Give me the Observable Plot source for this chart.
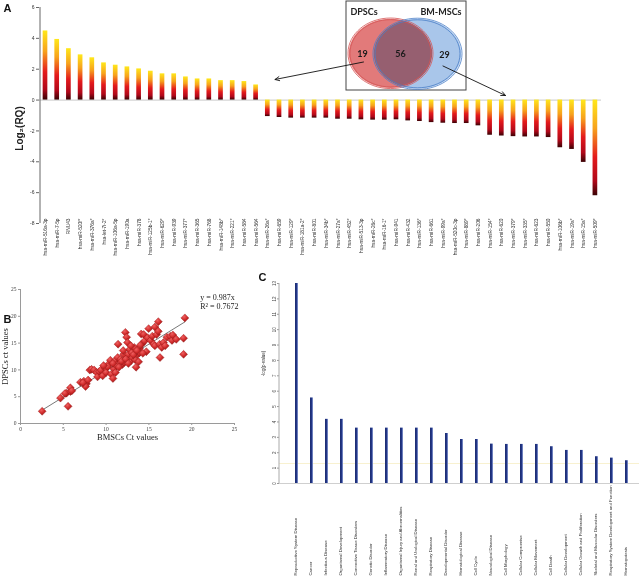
<!DOCTYPE html>
<html><head><meta charset="utf-8">
<script src="https://cdn.jsdelivr.net/npm/d3@7"></script>
<script src="https://cdn.jsdelivr.net/npm/@observablehq/plot@0.6"></script>
<style>
html,body{margin:0;padding:0;background:#fff;}
#root{position:relative;width:639px;height:577px;overflow:hidden;background:#fff;}
#root > svg{position:absolute;}
</style></head><body><div id="root"></div>
<script>
// ---------- Panel A data ----------
const mirnaLabels = [
  "hsa-miR-516a-3p","hsa-miR-7-5p","RNU43","hsa-miR-520f*","hsa-miR-376a*","hsa-let-7i-2*",
  "hsa-miR-106a-5p","hsa-miR-190a","hsa-miR-378","hsa-miR-125b-1*","hsa-miR-629*","hsa-miR-939",
  "hsa-miR-377*","hsa-miR-365","hsa-miR-768","hsa-miR-148b*","hsa-miR-221*","hsa-miR-584","hsa-miR-564",
  "hsa-miR-26a*","hsa-miR-659","hsa-miR-129*","hsa-miR-181a-2*","hsa-miR-801","hsa-miR-34b*",
  "hsa-miR-27a*","hsa-miR-452*","hsa-miR-513-3p","hsa-miR-26c*","hsa-miR-16-1*","hsa-miR-941",
  "hsa-miR-432","hsa-miR-136*","hsa-miR-661","hsa-miR-99a*","hsa-miR-520c-3p","hsa-miR-889*",
  "hsa-miR-206","hsa-miR-154*","hsa-miR-620","hsa-miR-379*","hsa-miR-335*","hsa-miR-623",
  "hsa-miR-550","hsa-miR-106b*","hsa-miR-19a*","hsa-miR-15a*","hsa-miR-509*"
];
const log2RQ = [
  4.48,3.93,3.33,2.93,2.74,2.41,2.26,2.15,2.02,1.87,1.7,1.7,1.5,1.37,1.37,1.26,1.26,1.2,0.98,
  -1.07,-1.13,-1.17,-1.17,-1.17,-1.17,-1.24,-1.24,-1.28,-1.3,-1.3,-1.28,-1.35,-1.39,-1.46,-1.5,
  -1.52,-1.52,-1.67,-2.28,-2.33,-2.37,-2.39,-2.39,-2.43,-3.09,-3.2,-4.04,-6.2
];
const aTicks = [6,4,2,0,-2,-4,-6,-8];

// ---------- Venn data ----------
const vennSetNames = ["DPSCs","BM-MSCs"];
const vennCounts = [19,56,29];

// ---------- Panel B data ----------
const bmscCt = [2.53,4.67,5.56,5.37,5.83,5.83,5.2,6.0,7.0,7.4,7.7,7.6,7.9,7.3,8.1,8.3,8.6,8.9,9.0,9.2,9.4,9.6,9.9,10.0,10.3,10.6,10.8,10.9,11.1,10.5,11.1,11.4,11.35,11.6,11.7,11.9,12.05,12.25,12.4,12.5,12.1,12.6,12.75,12.9,13.0,13.1,13.3,13.4,13.5,13.7,13.9,13.9,14.1,14.2,14.4,14.5,14.7,14.85,14.97,15.2,15.4,15.55,15.7,15.7,15.9,16.1,16.1,16.25,16.3,16.5,16.7,16.9,17.1,17.5,17.7,17.8,18.2,19.05,19.05,19.2,11.2,11.8,12.3,12.6,13.2,11.5,10.8,12.9,13.6,14.3,12.0,13.8,10.2,9.7,14.0];
const dpscCt = [2.28,4.74,3.2,5.66,5.97,6.65,5.6,6.1,7.7,7.9,7.4,6.9,8.1,7.6,9.97,10.1,9.97,9.5,8.7,9.7,9.97,8.9,10.3,9.5,11.1,9.2,8.4,10.2,9.5,11.8,11.8,14.8,12.3,11.1,12.0,11.0,12.9,17.0,16.1,15.1,11.4,12.9,13.8,11.7,13.2,12.3,14.2,11.9,10.5,12.9,14.0,13.2,16.7,14.9,16.6,15.4,13.4,16.0,17.7,15.5,16.3,14.8,18.0,14.5,16.6,19.0,17.2,14.8,12.3,14.2,15.1,14.5,16.1,16.3,15.5,16.5,15.7,15.9,12.9,19.7,10.8,11.6,12.0,11.2,12.8,10.5,11.2,14.5,13.6,13.1,13.6,11.5,10.6,10.8,14.6];
const bTicks = [0,5,10,15,20,25];
const trendSlope = 0.987;
const trendR2 = "0.7672";
const trendXRange = [2.5, 19.2];

// ---------- Panel C data ----------
const diseaseCategories = [
  "Reproductive System Disease","Cancer","Infectious Disease","Organismal Development",
  "Connective Tissue Disorders","Genetic Disorder","Inflammatory Disease",
  "Organismal Injury and Abnormalities","Renal and Urological Disease","Respiratory Disease",
  "Developmental Disorder","Hematological Disease","Cell Cycle","Neurological Disease",
  "Cell Morphology","Cellular Compromise","Cellular Movement","Cell Death","Cellular Development",
  "Cellular Growth and Proliferation","Skeletal and Muscular Disorders",
  "Respiratory System Development and Function","Hematopoiesis"
];
const negLogP = [13,5.56,4.17,4.17,3.6,3.6,3.6,3.6,3.6,3.6,3.25,2.86,2.86,2.56,2.54,2.54,2.54,2.39,2.15,2.15,1.74,1.65,1.48];
const cTicks = [0,1,2,3,4,5,6,7,8,9,10,11,12,13];
const pThreshold = 1.3;

// ---------- helpers ----------
const root = document.getElementById("root");
function place(el, left, top){ el.style.left = left+"px"; el.style.top = top+"px"; root.appendChild(el); }
function defsMark(build){ return () => { const d = d3.create("svg:defs"); build(d); return d.node(); }; }
function ellipseSymbol(aspect){
  return { draw(ctx, size){
    const rx = Math.sqrt(size/Math.PI), ry = rx*aspect, k = 0.5523;
    ctx.moveTo(rx,0);
    ctx.bezierCurveTo(rx,k*ry,k*rx,ry,0,ry);
    ctx.bezierCurveTo(-k*rx,ry,-rx,k*ry,-rx,0);
    ctx.bezierCurveTo(-rx,-k*ry,-k*rx,-ry,0,-ry);
    ctx.bezierCurveTo(k*rx,-ry,rx,-k*ry,rx,0);
    ctx.closePath();
  }};
}
const SANS = "'Liberation Sans', Arial, sans-serif";
const SERIF = "'Liberation Serif', 'Times New Roman', serif";

// ---------- Panel A ----------
const dataA = log2RQ.map((v,i)=>({i, v}));
const plotA = Plot.plot({
  width: 639, height: 262,
  marginLeft: 39, marginRight: 38, marginTop: 7, marginBottom: 39,
  style: {background:"transparent", fontFamily: SANS},
  x: {type:"band", domain: d3.range(log2RQ.length), range:[39.15, 600.75], paddingInner:0.6, paddingOuter:0.3},
  y: {domain:[-8,6], range:[223,7]},
  marks: [
    defsMark(d => {
      const g = d.append("linearGradient").attr("id","gradA").attr("x1",0).attr("y1",0).attr("x2",0).attr("y2",1);
      [[0,"#ffe81a"],[0.3,"#f7a21c"],[0.6,"#e41a1c"],[0.85,"#b0081a"],[1,"#3a0204"]].forEach(([o,c]) =>
        g.append("stop").attr("offset",o).attr("stop-color",c));
    }),
    Plot.ruleY([0], {stroke:"#d4d4d4", strokeWidth:1.2}),
    Plot.barY(dataA, {x:"i", y:"v", fill:"url(#gradA)"}),
    Plot.axisY({ticks: aTicks, tickFormat: d => String(d), tickSize:3, tickPadding:2, fontSize:5, label:null, stroke:"#666", fill:"#333"}),
    Plot.axisX({tickFormat: i => mirnaLabels[i], tickRotate:-90, tickSize:0, tickPadding:-5, fontSize:4.8, label:null, fill:"#333"}),
    (index, scales) => d3.create("svg:line").attr("x1",40).attr("x2",40)
        .attr("y1", scales.y(6)).attr("y2", scales.y(-8)).attr("stroke","#666").node(),
    Plot.text(["Log\u2082(RQ)"], {frameAnchor:"left", textAnchor:"middle", dx:-20, dy:13, rotate:-90, fontSize:10, fontWeight:"bold", fill:"#222"})
  ]
});
place(plotA, 0, 0);

// ---------- Panel B ----------
const dataB = bmscCt.map((x,i)=>({x, y: dpscCt[i]}));
const trend = trendXRange.map(x => ({x, y: trendSlope*x}));
const plotB = Plot.plot({
  width: 260, height: 170,
  marginLeft: 20, marginRight: 26, marginTop: 9, marginBottom: 27,
  style: {background:"transparent", fontFamily: SERIF},
  x: {domain:[0,25]}, y: {domain:[0,25]},
  marks: [
    defsMark(d => {
      const g = d.append("radialGradient").attr("id","gradB").attr("cx","40%").attr("cy","35%").attr("r","70%");
      [[0,"#f06060"],[0.55,"#cf2a2a"],[1,"#8e1414"]].forEach(([o,c]) =>
        g.append("stop").attr("offset",o).attr("stop-color",c));
    }),
    Plot.ruleX([0], {stroke:"#9a9a9a"}),
    Plot.ruleY([0], {stroke:"#9a9a9a"}),
    Plot.axisX({ticks: bTicks, tickSize:2, tickPadding:2, fontSize:5.5, label:null, stroke:"#999", fill:"#444"}),
    Plot.axisY({ticks: bTicks, tickSize:2, tickPadding:2, fontSize:5.5, label:null, stroke:"#999", fill:"#444"}),
    Plot.line(trend, {x:"x", y:"y", stroke:"#555", strokeWidth:0.8}),
    Plot.dot(dataB, {x:"x", y:"y", symbol:"diamond2", r:3.6, fill:"url(#gradB)", stroke:"#9a1818", strokeWidth:0.4}),
    Plot.text([`y = ${trendSlope}x`], {x:21.0, y:23.6, textAnchor:"start", fontSize:8, fill:"#222"}),
    Plot.text([`R\u00b2 = ${trendR2}`], {x:21.0, y:21.9, textAnchor:"start", fontSize:8, fill:"#222"}),
    Plot.text(["BMSCs Ct values"], {frameAnchor:"bottom", textAnchor:"middle", dy:16, fontSize:8.5, fill:"#222"}),
    Plot.text(["DPSCs ct values"], {frameAnchor:"left", textAnchor:"middle", dx:-15, rotate:-90, fontSize:8.5, fill:"#222"})
  ]
});
place(plotB, 0, 280);

// ---------- Panel C ----------
const dataC = diseaseCategories.map((c,i)=>({c, v: negLogP[i]}));
const plotC = Plot.plot({
  width: 390, height: 302,
  marginLeft: 24, marginRight: 0.5, marginTop: 8, marginBottom: 94,
  style: {background:"transparent", fontFamily: SANS},
  x: {type:"band", domain: diseaseCategories, paddingInner:0.79, paddingOuter:0.76, axis:null},
  y: {domain:[0,13]},
  marks: [
    defsMark(d => {
      const g = d.append("linearGradient").attr("id","gradC").attr("x1",0).attr("y1",0).attr("x2",1).attr("y2",0);
      [[0,"#1b2a6e"],[0.6,"#24388a"],[1,"#9fb0e0"]].forEach(([o,c]) =>
        g.append("stop").attr("offset",o).attr("stop-color",c));
    }),
    Plot.ruleY([0], {stroke:"#cfcfcf"}),
    Plot.ruleY([pThreshold], {stroke:"#f3e7b0", strokeWidth:0.6}),
    Plot.barY(dataC, {x:"c", y:"v", fill:"url(#gradC)"}),
    Plot.axisY({ticks: cTicks, tickRotate:-90, tickSize:2, tickPadding:2, fontSize:4.5, label:null, stroke:"#999", fill:"#444"}),
    (index, scales) => d3.create("svg:line").attr("x1",24).attr("x2",24)
        .attr("y1", scales.y(13)).attr("y2", scales.y(0)).attr("stroke","#aaa").node(),
    Plot.text(diseaseCategories, {x: d => d, text: d => d, frameAnchor:"bottom", dy:92, rotate:-90, textAnchor:"start", fontSize:4.3, fill:"#333"}),
    Plot.text(["-log(p-value)"], {frameAnchor:"left", textAnchor:"middle", dx:-16, dy:-20, rotate:-90, fontSize:4.5, fill:"#333"})
  ]
});
place(plotC, 255, 275);

// ---------- Overlay: Venn, arrows, panel letters ----------
const vennBox = [{x1:346, x2:466, y1:1, y2:90}];
const vennEllipses = [
  {set:vennSetNames[0], x:390, y:52.8, r:41.7, aspect:0.83, fill:"#e27a7a", stroke:"#d65555"},
  {set:vennSetNames[1], x:417, y:53.3, r:43.7, aspect:0.80, fill:"#a9c6ea", stroke:"#4a7fc8"}
];
const vennTitles = [
  {text:vennSetNames[0], x:363.5, y:12},
  {text:vennSetNames[1], x:440.5, y:12}
];
const vennNumbers = [
  {text:String(vennCounts[0]), x:362, y:54},
  {text:String(vennCounts[1]), x:400, y:54},
  {text:String(vennCounts[2]), x:444, y:55}
];
const arrows = [
  {x1:363, y1:61.5, x2:274.5, y2:79},
  {x1:442.5, y1:65.5, x2:505, y2:95}
];
const panelLetters = [
  {text:"A", x:7, y:8},
  {text:"B", x:7, y:319},
  {text:"C", x:262, y:277}
];
const ellipseMarks = vennEllipses.map(e =>
  Plot.dot([e], {x:"x", y:"y", r:e.r, symbol:ellipseSymbol(e.aspect), fill:e.fill, stroke:"none", mixBlendMode:"multiply"}));
const ringMarks = vennEllipses.flatMap(e => {
  const sym = ellipseSymbol(e.aspect);
  return [
    Plot.dot([e], {x:"x", y:"y", r:e.r-1.2, symbol:sym, fill:"none", stroke:e.stroke, strokeWidth:0.8}),
    Plot.dot([e], {x:"x", y:"y", r:e.r+0.8, symbol:sym, fill:"none", stroke:e.stroke, strokeWidth:0.8})
  ];
});
const overlay = Plot.plot({
  width: 639, height: 577, margin: 0,
  style: {background:"transparent", fontFamily: SANS},
  x: {domain:[0,639], range:[0,639], axis:null},
  y: {domain:[0,577], range:[0,577], axis:null},
  marks: [
    Plot.rect(vennBox, {x1:"x1", x2:"x2", y1:"y1", y2:"y2", fill:"white", stroke:"#444", strokeWidth:1}),
    ...ellipseMarks,
    ...ringMarks,
    Plot.text(vennTitles, {x:"x", y:"y", text:"text", textAnchor:"middle", fontSize:9, fontWeight:"bold", fontFamily:"Lato, 'Open Sans', sans-serif", fill:"#222"}),
    Plot.text(vennNumbers, {x:"x", y:"y", text:"text", fontSize:9, fontWeight:"bold", fontFamily:"Lato, 'Open Sans', sans-serif", fill:"#1a1a1a"}),
    Plot.arrow(arrows, {x1:"x1", y1:"y1", x2:"x2", y2:"y2", stroke:"#111", strokeWidth:0.9, headLength:8, headAngle:50, bend:0}),
    Plot.text(panelLetters, {x:"x", y:"y", text:"text", fontSize:11, fontWeight:"bold", fill:"#111"})
  ]
});
place(overlay, 0, 0);
</script></body></html>
